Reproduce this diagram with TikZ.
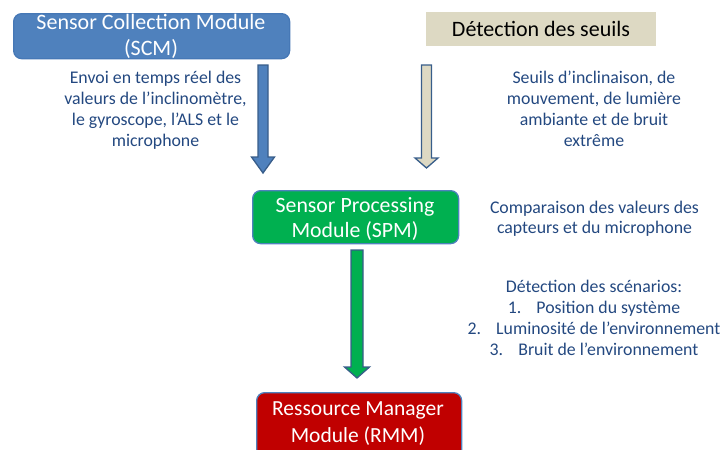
\documentclass[tikz,border=0pt]{standalone}
\usepackage{fontspec}
\setmainfont{Carlito}
\usetikzlibrary{calc}
\definecolor{scmblue}{RGB}{79,129,189}
\definecolor{scmedge}{RGB}{70,120,182}
\definecolor{beige}{RGB}{221,217,195}
\definecolor{spmgreen}{RGB}{0,176,80}
\definecolor{rmmred}{RGB}{192,0,0}
\definecolor{edgeblue}{RGB}{79,129,189}
\definecolor{arrowedge}{RGB}{56,93,138}
\definecolor{notes}{RGB}{35,72,128}
% vertical block arrow: style, start, tip, shaft half-width, head half-width, head length
\newcommand\blockarrow[6]{%
  \draw[#1] let \p1=(#2), \p2=(#3) in
    (\x1-#4,\y1) -- (\x1-#4,\y2+#6) -- (\x1-#5,\y2+#6) -- (\x1,\y2)
    -- (\x1+#5,\y2+#6) -- (\x1+#4,\y2+#6) -- (\x1+#4,\y1) -- cycle;}
\begin{document}
\begin{tikzpicture}[x=1pt,y=-1pt,
  module/.style={rounded corners=8pt, line width=1.3pt, inner sep=0pt, anchor=north west},
  label/.style={text=white, align=center, inner sep=0pt, anchor=base,
    font=\fontsize{22}{26}\selectfont},
  note/.style={text=notes, align=center, inner sep=0pt, anchor=base,
    font=\fontsize{17.8}{21}\selectfont},
  blockbody/.style={line width=1.3pt, draw=arrowedge, line join=miter}]
\useasboundingbox (0,0) rectangle (724,450);
% modules (base anchor of a two-line label sits on its last line)
\node[module, draw=scmedge, fill=scmblue, minimum width=276pt, minimum height=45pt]
  (scm) at (13,13) {};
\node[label] (scmt) at (151,55) {Sensor Collection Module\\(SCM)};
\node[fill=beige, minimum width=230pt, minimum height=34pt, anchor=north west,
  inner sep=0pt] (seuils) at (426,12) {};
\node[font=\fontsize{22}{26}\selectfont, anchor=base, inner sep=0pt] (seuilst)
  at (541,36) {Détection des seuils};
\node[module, draw=edgeblue, fill=spmgreen, minimum width=206pt, minimum height=53pt]
  (spm) at (252,190) {};
\node[label, font=\fontsize{21.8}{25}\selectfont] (spmt) at (355,237)
  {Sensor Processing\\Module (SPM)};
\node[module, draw=edgeblue, fill=rmmred, minimum width=205pt, minimum height=70pt]
  (rmm) at (256,392) {};
\node[label, font=\fontsize{21.5}{27}\selectfont] (rmmt) at (358,442)
  {Ressource Manager\\Module (RMM)};
% arrows
\coordinate (s1) at (263,65);  \coordinate (t1) at (263,173);
\coordinate (s2) at (426.5,65); \coordinate (t2) at (426.5,168);
\coordinate (s3) at (357,250); \coordinate (t3) at (357,378);
\blockarrow{blockbody, fill=scmblue}{s1}{t1}{5pt}{11.5pt}{16pt}
\blockarrow{blockbody, fill=beige}{s2}{t2}{5pt}{11.5pt}{10pt}
\blockarrow{blockbody, fill=spmgreen}{s3}{t3}{6pt}{12.5pt}{11pt}
% notes
\node[note] (n1) at (155.5,146)
  {Envoi en temps réel des\\valeurs de l’inclinomètre,\\le gyroscope, l’ALS et le\\microphone};
\node[note] (n2) at (594,146)
  {Seuils d’inclinaison, de\\mouvement, de lumière\\ambiante et de bruit\\extrême};
\node[note, font=\fontsize{17.8}{20}\selectfont] (n3) at (594.5,233.5)
  {Comparaison des valeurs des\\capteurs et du microphone};
\node[note, font=\fontsize{17.8}{20.7}\selectfont] (n4) at (594,355)
  {Détection des scénarios:\\1.\hspace{0.85em}Position du système\\2.\hspace{0.85em}Luminosité de l’environnement\\3.\hspace{0.85em}Bruit de l’environnement};
\end{tikzpicture}
\end{document}
